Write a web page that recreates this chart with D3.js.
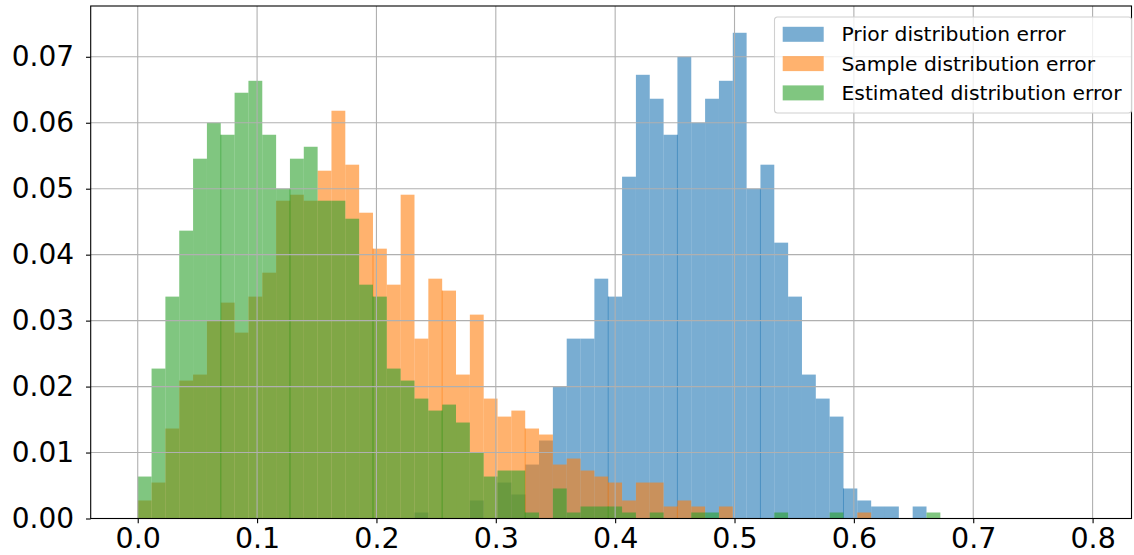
<!DOCTYPE html>
<html>
<head>
<meta charset="utf-8">
<script src="https://cdn.jsdelivr.net/npm/d3@7"></script>
<style>
  body { margin: 0; background: #fff; }
  text { font-family: "DejaVu Sans", sans-serif; fill: #000; }
</style>
</head>
<body>
<svg width="1134" height="555"></svg>
<script>
// shared bins, left edge of first bin at 0
var binWidth = 0.011594;

var prior = [0,0,0,0,0,0,0,0,0,0,
  0,0,0,0,0,0,0,0,0,0,
  0.00091,0,0,0,0.00273,0,0.00545,0.00364,0.00818,0.01182,
  0.02,0.02727,0.02727,0.03636,0.03364,0.05182,0.06727,0.06364,0.05818,0.07,
  0.06,0.06364,0.06636,0.07364,0.05,0.05364,0.04182,0.03364,0.02182,0.01818,
  0.01545,0.00455,0.00273,0.00182,0.00182,0,0.00182,0];

var sample = [0.00273,0.00545,0.01364,0.02091,0.02182,0.03,0.03273,0.02818,0.03364,0.03727,
  0.04818,0.04909,0.04818,0.05273,0.06182,0.05364,0.04636,0.04091,0.03545,0.04909,
  0.02727,0.03636,0.03455,0.02182,0.03091,0.01818,0.01545,0.01636,0.01364,0.01273,
  0.00818,0.00909,0.00727,0.00636,0.00545,0.00273,0.00545,0.00545,0.00182,0.00273,
  0.00182,0,0.00182,0,0,0,0,0,0,0,
  0,0,0.00091,0,0,0,0,0];

var estimated = [0.00636,0.02273,0.03364,0.04364,0.05455,0.06,0.05818,0.06455,0.06636,0.05818,
  0.05,0.05455,0.05636,0.04818,0.04818,0.04545,0.03545,0.03364,0.02273,0.02091,
  0.01818,0.01636,0.01727,0.01455,0.01,0.00636,0.00727,0.00727,0.00091,0,
  0.00455,0.00091,0.00182,0.00182,0.00182,0.00091,0,0.00091,0,0,
  0.00091,0.00091,0,0,0,0,0.00091,0,0,0,
  0.00091,0,0,0,0,0,0,0.00091];

var seriesNames = ["Prior distribution error", "Sample distribution error", "Estimated distribution error"];
var seriesColors = ["#1f77b4", "#ff7f0e", "#2ca02c"];
var xTicks = [0, 0.1, 0.2, 0.3, 0.4, 0.5, 0.6, 0.7, 0.8];
var yTicks = [0, 0.01, 0.02, 0.03, 0.04, 0.05, 0.06, 0.07];
// bin edges where the rasterised bars overlap by a pixel (darker seam)
var seamBins = [6, 11, 17, 22, 28, 34, 39, 45, 51];

var svg = d3.select("svg"),
    margin = {top: 6, right: 2.5, bottom: 36.5, left: 90.7},
    width = +svg.attr("width") - margin.left - margin.right,
    height = +svg.attr("height") - margin.top - margin.bottom,
    g = svg.append("g").attr("transform", "translate(" + margin.left + "," + margin.top + ")");

var x = d3.scaleLinear()
    .domain([-0.0394, 0.8326])
    .range([0, width]);

var y = d3.scaleLinear()
    .domain([0, 0.0777])
    .range([height, 0]);

// bars, drawn in the same order as the legend
[prior, sample, estimated].forEach(function(values, i) {
  var bins = values.map(function(v, k) { return {k: k, x0: k * binWidth, x1: (k + 1) * binWidth, v: v}; })
      .filter(function(d) { return d.v > 0; });

  var s = g.append("g")
      .attr("fill", seriesColors[i])
      .attr("fill-opacity", 0.6);

  s.selectAll("rect.bar")
    .data(bins)
    .enter().append("rect")
      .attr("class", "bar")
      .attr("x", function(d) { return x(d.x0); })
      .attr("width", function(d) { return x(d.x1) - x(d.x0); })
      .attr("y", function(d) { return y(d.v); })
      .attr("height", function(d) { return height - y(d.v); });

  s.selectAll("rect.seam")
    .data(bins.filter(function(d) { return seamBins.indexOf(d.k) >= 0 && values[d.k - 1] > 0; }))
    .enter().append("rect")
      .attr("class", "seam")
      .attr("x", function(d) { return x(d.x0) - 0.5; })
      .attr("width", 1)
      .attr("y", function(d) { return y(Math.min(d.v, values[d.k - 1])); })
      .attr("height", function(d) { return height - y(Math.min(d.v, values[d.k - 1])); });
});

// grid sits on top of the bars
g.append("g")
    .attr("stroke", "#b0b0b0")
    .attr("stroke-width", 1.1)
  .selectAll("line.gx")
  .data(xTicks)
  .enter().append("line")
    .attr("x1", function(d) { return x(d); })
    .attr("x2", function(d) { return x(d); })
    .attr("y1", 0)
    .attr("y2", height);

g.append("g")
    .attr("stroke", "#b0b0b0")
    .attr("stroke-width", 1.1)
  .selectAll("line.gy")
  .data(yTicks)
  .enter().append("line")
    .attr("x1", 0)
    .attr("x2", width)
    .attr("y1", function(d) { return y(d); })
    .attr("y2", function(d) { return y(d); });

var xAxis = g.append("g")
    .attr("transform", "translate(0," + height + ")")
    .call(d3.axisBottom(x).tickValues(xTicks).tickFormat(d3.format(".1f")).tickSize(4.7).tickPadding(5));

var yAxis = g.append("g")
    .call(d3.axisLeft(y).tickValues(yTicks).tickFormat(d3.format(".2f")).tickSize(4.7).tickPadding(12));

[xAxis, yAxis].forEach(function(a) {
  a.select(".domain").remove();
  a.selectAll(".tick line").attr("stroke", "#000").attr("stroke-width", 1.1);
  a.selectAll(".tick text").attr("font-family", "DejaVu Sans").attr("fill", "#000");
});
xAxis.selectAll(".tick text").attr("font-size", 28.5);
yAxis.selectAll(".tick text").attr("font-size", 28);

// frame
g.append("rect")
    .attr("width", width)
    .attr("height", height)
    .attr("fill", "none")
    .attr("stroke", "#000")
    .attr("stroke-width", 1.1);

// legend
var legend = svg.append("g").attr("transform", "translate(774.5,17)");

legend.append("rect")
    .attr("width", 357)
    .attr("height", 96)
    .attr("rx", 3)
    .attr("fill", "#fff")
    .attr("fill-opacity", 0.8)
    .attr("stroke", "#d0d0d0")
    .attr("stroke-width", 1.1);

var item = legend.selectAll(".item")
  .data(seriesNames)
  .enter().append("g")
    .attr("class", "item")
    .attr("transform", function(d, i) { return "translate(0," + (17.3 + i * 29.3) + ")"; });

item.append("rect")
    .attr("x", 8.2)
    .attr("y", -7.5)
    .attr("width", 41)
    .attr("height", 15)
    .attr("fill", function(d, i) { return seriesColors[i]; })
    .attr("fill-opacity", 0.6);

item.append("text")
    .attr("x", 67)
    .attr("dy", "0.35em")
    .attr("font-size", 20.3)
    .text(function(d) { return d; });
</script>
</body>
</html>
